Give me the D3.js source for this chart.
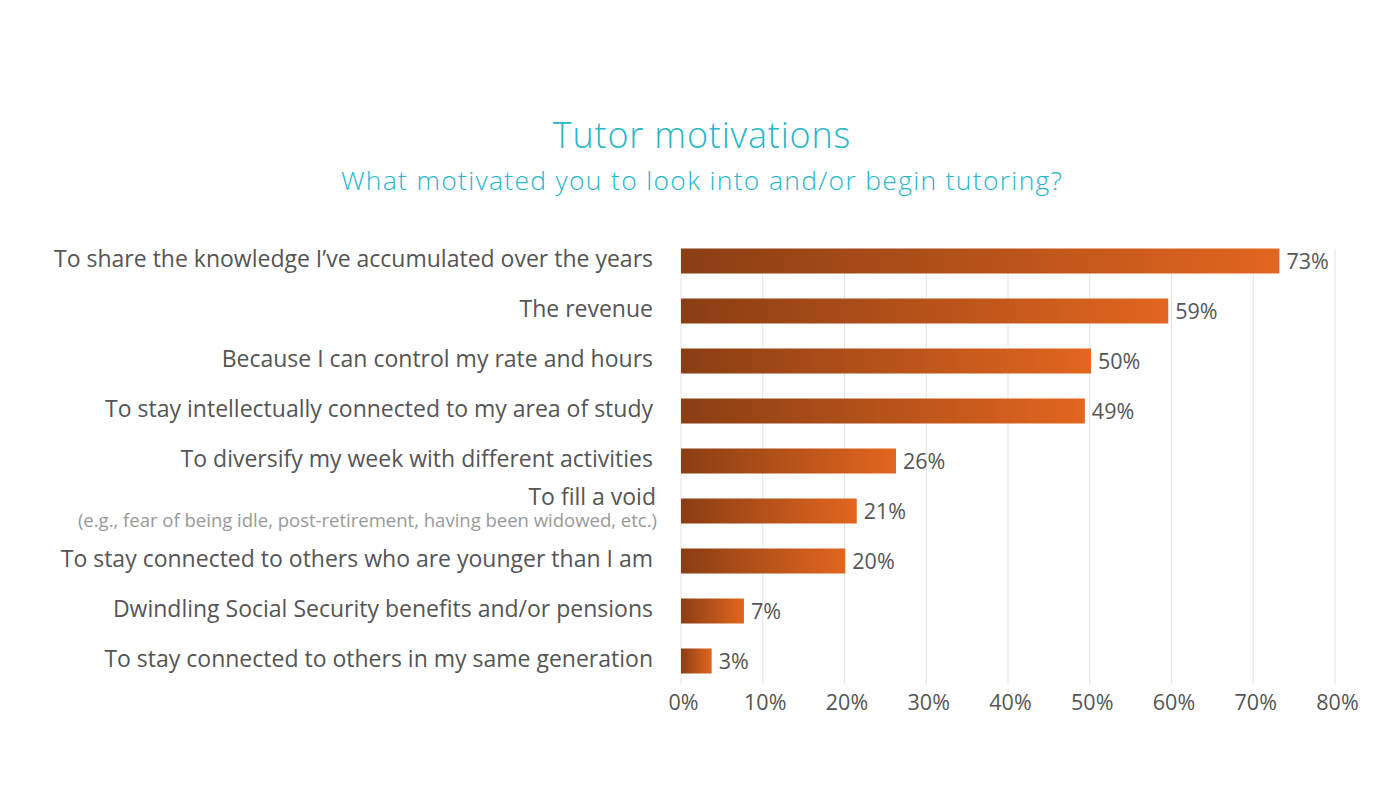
<!DOCTYPE html>
<html>
<head>
<meta charset="utf-8">
<script src="https://cdn.jsdelivr.net/npm/d3@7"></script>
<style>
  html, body { margin: 0; padding: 0; background: #fff; }
  svg { display: block; }
</style>
</head>
<body>
<svg id="chart" width="1400" height="800"></svg>
<script>
const categories = [
  "To share the knowledge I\u2019ve accumulated over the years",
  "The revenue",
  "Because I can control my rate and hours",
  "To stay intellectually connected to my area of study",
  "To diversify my week with different activities",
  "To fill a void",
  "To stay connected to others who are younger than I am",
  "Dwindling Social Security benefits and/or pensions",
  "To stay connected to others in my same generation"
];
const subLabels = ["", "", "", "", "", "(e.g., fear of being idle, post-retirement, having been widowed, etc.)", "", "", ""];
const values = [73.2, 59.6, 50.15, 49.4, 26.3, 21.5, 20.1, 7.7, 3.75];
const valueLabels = ["73%", "59%", "50%", "49%", "26%", "21%", "20%", "7%", "3%"];
const xTicks = [0, 10, 20, 30, 40, 50, 60, 70, 80];
const titleText = "Tutor motivations";
const subtitleText = "What motivated you to look into and/or begin tutoring?";

const svg = d3.select("#chart");
const margin = { left: 681, right: 65, top: 236, bottom: 114 };
const W = 1400;
const FONT = "'Open Sans', sans-serif";

const x = d3.scaleLinear().domain([0, 80]).range([margin.left, W - margin.right]);
const y = d3.scaleBand().domain(categories).range([margin.top, margin.top + 450]).paddingInner(0.5).paddingOuter(0.25);

// gradient
const defs = svg.append("defs");
const grad = defs.append("linearGradient").attr("id", "barGrad")
  .attr("x1", "0%").attr("x2", "100%").attr("y1", "0%").attr("y2", "0%");
grad.append("stop").attr("offset", "0%").attr("stop-color", "#8a3e14");
grad.append("stop").attr("offset", "100%").attr("stop-color", "#e2661f");

// gridlines
svg.append("g").selectAll("line").data(xTicks).join("line")
  .attr("x1", d => x(d)).attr("x2", d => x(d))
  .attr("y1", 249).attr("y2", 684)
  .attr("stroke", "#e3e3e3").attr("stroke-width", 1);

// axis
const xAxis = d3.axisBottom(x).tickValues(xTicks).tickFormat(d => d + "%").tickSize(0).tickPadding(0);
const gx = svg.append("g").call(xAxis);
gx.select(".domain").remove();
gx.selectAll("text").attr("font-family", FONT).attr("font-size", 21.5).attr("fill", "#555")
  .attr("dy", null).attr("y", 710).attr("dx", 2);

// bars
svg.append("g").selectAll("rect").data(values).join("rect")
  .attr("x", x(0))
  .attr("y", (d, i) => y(categories[i]))
  .attr("width", d => x(d) - x(0))
  .attr("height", y.bandwidth())
  .attr("fill", "url(#barGrad)");

// value labels
svg.append("g").selectAll("text").data(values).join("text")
  .attr("x", d => x(d) + 7)
  .attr("y", (d, i) => y(categories[i]) + y.bandwidth() / 2 + 8)
  .attr("font-family", FONT).attr("font-size", 21.5).attr("fill", "#555")
  .text((d, i) => valueLabels[i]);

// category labels
const catG = svg.append("g");
categories.forEach((c, i) => {
  const cy = y(c) + y.bandwidth() / 2;
  if (subLabels[i]) {
    catG.append("text").attr("x", 656).attr("y", cy - 6).attr("text-anchor", "end")
      .attr("font-family", FONT).attr("font-size", 23).attr("fill", "#555")
      .text(c);
    catG.append("text").attr("x", 657).attr("y", cy + 15.5).attr("text-anchor", "end")
      .attr("font-family", FONT).attr("font-size", 18.5).attr("fill", "#999")
      .text(subLabels[i]);
  } else {
    catG.append("text").attr("x", 653).attr("y", cy + 5.7).attr("text-anchor", "end")
      .attr("font-family", FONT).attr("font-size", 23).attr("fill", "#555")
      .text(c);
  }
});

// titles
svg.append("text").attr("x", 702).attr("y", 147.5).attr("text-anchor", "middle")
  .attr("font-family", FONT).attr("font-weight", 300).attr("font-size", 36)
  .attr("letter-spacing", 0.8)
  .attr("fill", "#27b6c9").text(titleText);
svg.append("text").attr("x", 702).attr("y", 190).attr("text-anchor", "middle")
  .attr("font-family", FONT).attr("font-weight", 300).attr("font-size", 26.5)
  .attr("letter-spacing", 1.3)
  .attr("fill", "#27b6c9").text(subtitleText);
</script>
</body>
</html>
